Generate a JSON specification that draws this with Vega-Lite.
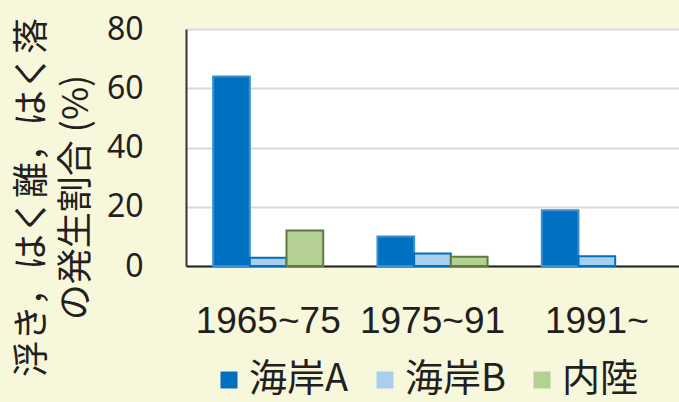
{
  "$schema": "https://vega.github.io/schema/vega-lite/v6.json",
  "width": 493,
  "height": 237,
  "autosize": {"type": "none"},
  "padding": {"left": 186, "top": 29, "right": 0, "bottom": 136},
  "background": "#f7f7dc",
  "config": {"view": {"fill": "#ffffff", "stroke": null}, "font": "Noto Sans CJK JP"},
  "data": {
    "values": [
      {"period": "1965~75", "area": "海岸A", "value": 64},
      {"period": "1965~75", "area": "海岸B", "value": 2.8},
      {"period": "1965~75", "area": "内陸", "value": 12},
      {"period": "1975~91", "area": "海岸A", "value": 10},
      {"period": "1975~91", "area": "海岸B", "value": 4.2},
      {"period": "1975~91", "area": "内陸", "value": 3.1},
      {"period": "1991~", "area": "海岸A", "value": 18.8},
      {"period": "1991~", "area": "海岸B", "value": 3.3}
    ]
  },
  "mark": {"type": "bar", "strokeWidth": 2},
  "encoding": {
    "x": {
      "field": "period", "type": "nominal", "sort": ["1965~75", "1975~91", "1991~"],
      "scale": {"paddingInner": 0.33, "paddingOuter": 0.165},
      "axis": {"title": null, "labelAngle": 0, "ticks": false, "domain": true, "domainColor": "#231f20", "domainWidth": 2,
        "labelFont": "Liberation Sans", "labelFontSize": 37, "labelColor": "#231f20", "labelPadding": 37}
    },
    "xOffset": {
      "field": "area", "type": "nominal", "sort": ["海岸A", "海岸B", "内陸"],
      "scale": {"paddingInner": 0, "paddingOuter": 0}
    },
    "y": {
      "field": "value", "type": "quantitative",
      "scale": {"domain": [0, 80]},
      "axis": {
        "values": [0, 20, 40, 60, 80], "ticks": false,
        "domainColor": "#333333", "domainWidth": 2,
        "gridColor": "#d9d9d9", "gridWidth": 2,
        "labelFont": "Noto Sans", "labelFontSize": 32, "labelColor": "#231f20", "labelPadding": 43,
        "title": ["浮き，はく離，はく落", "の発生割合 (%)"],
        "titleFontSize": 36, "titleFontWeight": "normal", "titleColor": "#231f20",
        "titleLineHeight": 44, "titleX": -154, "titleY": 168,
        "titleBaseline": "middle", "titleAlign": "center", "titleAngle": -90
      }
    },
    "fill": {
      "field": "area", "type": "nominal", "sort": ["海岸A", "海岸B", "内陸"],
      "scale": {"range": ["#0070c0", "#a9cfee", "#b5d095"]},
      "legend": {
        "title": null, "orient": "none", "legendX": 24, "legendY": 332, "direction": "horizontal",
        "symbolType": "square", "symbolSize": 289, "symbolStrokeWidth": 2,
        "labelFontSize": 38, "labelColor": "#231f20", "labelOffset": 1, "columnPadding": 17, "padding": 0
      }
    },
    "stroke": {
      "field": "area", "type": "nominal", "sort": ["海岸A", "海岸B", "内陸"],
      "scale": {"range": ["#3d8fd0", "#0070c0", "#5e7a3c"]}
    }
  }
}
